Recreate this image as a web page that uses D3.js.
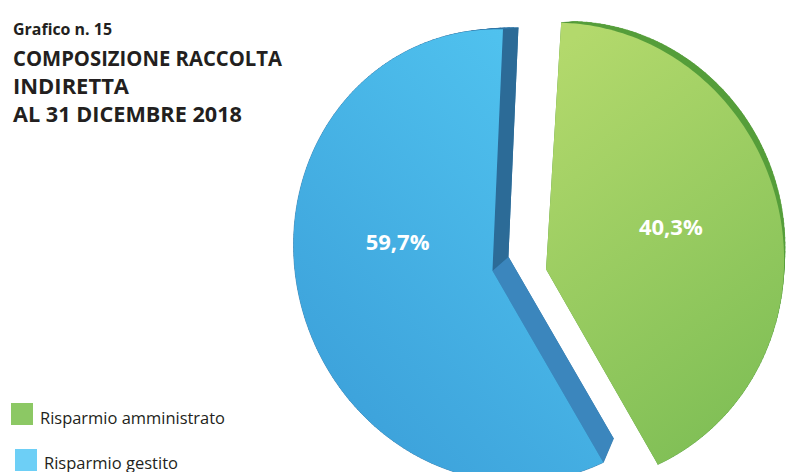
<!DOCTYPE html>
<html>
<head>
<meta charset="utf-8">
<script src="https://cdn.jsdelivr.net/npm/d3@7"></script>
<style>
  html, body { margin: 0; padding: 0; background: #ffffff; }
  svg { display: block; }
  .title { font-family: "Open Sans", "Noto Sans", sans-serif; font-weight: 700; fill: #231f20; }
  .legend { font-family: "Open Sans", "Noto Sans", sans-serif; font-weight: 400; fill: #231f20; }
  .vlabel { font-family: "Open Sans", "Noto Sans", sans-serif; font-weight: 700; fill: #ffffff; }
</style>
</head>
<body>
<div id="chart"></div>
<script>
// Composizione raccolta indiretta al 31/12/2018
const chartNumber = "Grafico n. 15";
const titleLines = ["COMPOSIZIONE RACCOLTA", "INDIRETTA", "AL 31 DICEMBRE 2018"];
const categories = ["Risparmio amministrato", "Risparmio gestito"];
const values = [40.3, 59.7];

const W = 788, H = 472;
const fmt = v => d3.format(".1f")(v).replace(".", ",") + "%";

const svg = d3.select("#chart").append("svg")
  .attr("width", W).attr("height", H);

// ---- perspective pie ---------------------------------------------------
const R = 232;                     // disc radius
const aspect = 0.955;              // horizontal foreshortening
const explodeU = 30, explodeV = 12;
const yaw = 12 * Math.PI / 180;    // right side towards the viewer
const pitch = -13 * Math.PI / 180; // top towards the viewer
const roll = 3 * Math.PI / 180;
const dist = 700;
const cx = 519, cy = 270;
// depth of the disc: back outline shrinks towards a vanishing point
const depthK = 0.052, vanish = [800, 0];

// u right, v up (front face of the disc)
function proj(u, v) {
  const x1 = u * Math.cos(yaw) * aspect;
  const z1 = -u * Math.sin(yaw);
  const y1 = v * Math.cos(pitch) - z1 * Math.sin(pitch);
  const z2 = v * Math.sin(pitch) + z1 * Math.cos(pitch);
  const s = dist / (dist + z2);
  const dx = x1 * s, dy = -y1 * s;
  return [cx + dx * Math.cos(roll) - dy * Math.sin(roll),
          cy + dx * Math.sin(roll) + dy * Math.cos(roll)];
}
const back = p => [p[0] + depthK * (vanish[0] - p[0]), p[1] + depthK * (vanish[1] - p[1])];

const pie = d3.pie().sort(null).value(d => d).startAngle(0).endAngle(2 * Math.PI);
const arcs = pie(values);

const palette = [
  { top: "#b3d96c", bottom: "#80bf56", rim: "#559e3a", startWall: "#4f9436", endWall: "#4f9436" },
  { top: "#52c6f1", bottom: "#3b9fd9", rim: "#2f75a6", startWall: "#3b86bd", endWall: "#2c6b97" }
];

const defs = svg.append("defs");
palette.forEach((p, i) => {
  const g = defs.append("linearGradient").attr("id", "face" + i)
    .attr("x1", i === 0 ? "0.2" : "0.9").attr("y1", "0")
    .attr("x2", i === 0 ? "0.6" : "0.2").attr("y2", "1");
  g.append("stop").attr("offset", "0%").attr("stop-color", p.top);
  g.append("stop").attr("offset", "100%").attr("stop-color", p.bottom);
});

const line = d3.line().curve(d3.curveLinearClosed);
const wallLayer = svg.append("g");
const faceLayer = svg.append("g");

const geom = arcs.map(a => {
  const mid = (a.startAngle + a.endAngle) / 2;
  const ou = explodeU * Math.sin(mid), ov = explodeV * Math.cos(mid);
  const n = Math.max(8, Math.ceil((a.endAngle - a.startAngle) / 0.02));
  const angles = d3.range(n + 1).map(k => a.startAngle + (a.endAngle - a.startAngle) * k / n);
  const rim = angles.map(t => proj(ou + R * Math.sin(t), ov + R * Math.cos(t)));
  return { a, ou, ov, n, rim, rimBack: rim.map(back), c0: proj(ou, ov), c1: back(proj(ou, ov)) };
});

geom.forEach((g, i) => {
  const p = palette[i];
  wallLayer.append("path").attr("d", line([g.c1, ...g.rimBack])).attr("fill", p.rim);
  for (let k = 0; k < g.n; k++) {
    wallLayer.append("path")
      .attr("d", line([g.rim[k], g.rim[k + 1], g.rimBack[k + 1], g.rimBack[k]]))
      .attr("fill", p.rim).attr("stroke", p.rim).attr("stroke-width", 0.6);
  }
  wallLayer.append("path")
    .attr("d", line([g.c0, g.rim[0], g.rimBack[0], g.c1])).attr("fill", p.startWall);
  wallLayer.append("path")
    .attr("d", line([g.c0, g.rim[g.n], g.rimBack[g.n], g.c1])).attr("fill", p.endWall);
  faceLayer.append("path").attr("d", line([g.c0, ...g.rim])).attr("fill", `url(#face${i})`);
});

// value labels
const labelAngleFrac = [0.46, 0.63];
const labelRadiusFrac = [0.57, 0.47];
geom.forEach((g, i) => {
  const a = g.a;
  const t = a.startAngle + (a.endAngle - a.startAngle) * labelAngleFrac[i];
  const r = R * labelRadiusFrac[i];
  const pt = proj(g.ou + r * Math.sin(t), g.ov + r * Math.cos(t));
  svg.append("text").attr("class", "vlabel")
    .attr("x", pt[0]).attr("y", pt[1] + 8)
    .attr("text-anchor", "middle")
    .attr("font-size", 22)
    .text(fmt(a.data));
});

// ---- titles ------------------------------------------------------------
svg.append("text").attr("class", "title")
  .attr("x", 13).attr("y", 35).attr("font-size", 16.5)
  .attr("textLength", 99).attr("lengthAdjust", "spacingAndGlyphs")
  .text(chartNumber);
const titleWidths = [269, 116, 229];
titleLines.forEach((t, i) => {
  svg.append("text").attr("class", "title")
    .attr("x", 13).attr("y", 66 + i * 28).attr("font-size", 20.5)
    .attr("textLength", titleWidths[i]).attr("lengthAdjust", "spacingAndGlyphs")
    .text(t);
});

// ---- legend ------------------------------------------------------------
const legendColors = ["#8cc864", "#6dcff6"];
const legendPos = [{ x: 11, y: 403, tx: 40, ty: 424, w: 185 }, { x: 15, y: 449, tx: 44, ty: 469, w: 134 }];
categories.forEach((c, i) => {
  const lp = legendPos[i];
  svg.append("rect").attr("x", lp.x).attr("y", lp.y).attr("width", 22).attr("height", 22)
    .attr("fill", legendColors[i]);
  svg.append("text").attr("class", "legend")
    .attr("x", lp.tx).attr("y", lp.ty).attr("font-size", 16.5)
    .attr("textLength", lp.w).attr("lengthAdjust", "spacingAndGlyphs")
    .text(c);
});
</script>
</body>
</html>
